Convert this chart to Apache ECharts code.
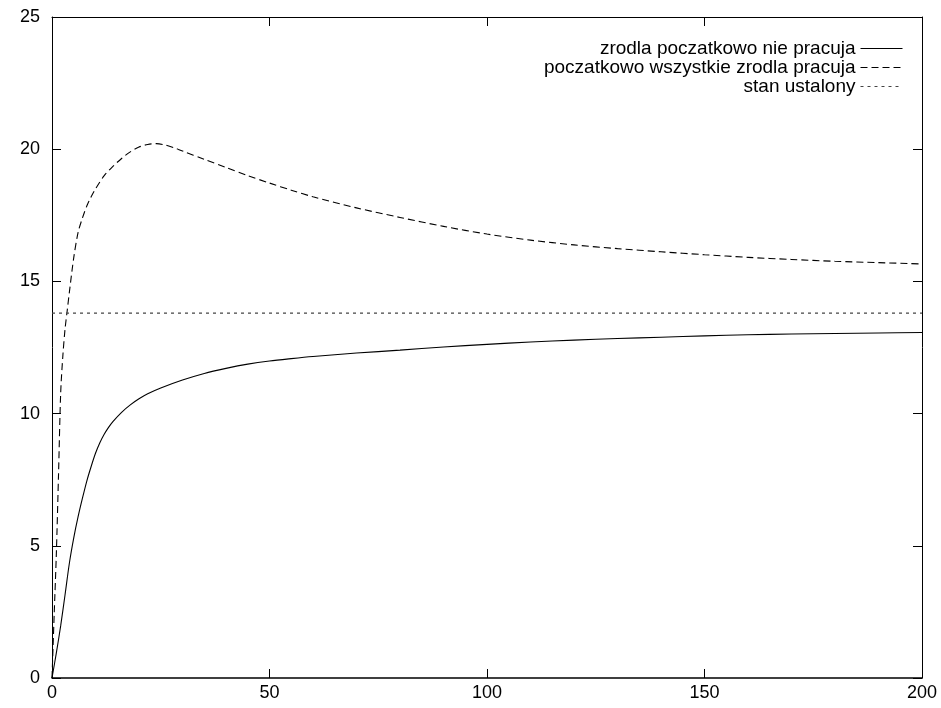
<!DOCTYPE html>
<html>
<head>
<meta charset="utf-8">
<script src="https://cdn.jsdelivr.net/npm/echarts@6/dist/echarts.min.js"></script>
<style>html,body{margin:0;padding:0;background:#fff}#c{width:941px;height:708px}</style>
</head>
<body>
<div id="c"></div>
<script>
// Series names
const names = ['zrodla poczatkowo nie pracuja', 'poczatkowo wszystkie zrodla pracuja', 'stan ustalony'];

// Series 1: sources initially not working (solid)
const solidX = [0, 1, 2, 3, 4, 5, 6, 7, 8, 9, 10, 11, 12, 13, 14, 16, 18, 20, 22, 25, 30, 35, 40, 45, 50, 55, 60, 70, 80, 90, 100, 110, 120, 130, 140, 150, 160, 170, 180, 190, 200];
const solidY = [0, 0.95, 1.98, 3.15, 4.35, 5.3, 6.1, 6.8, 7.45, 8.0, 8.5, 8.9, 9.22, 9.48, 9.7, 10.05, 10.33, 10.56, 10.75, 10.97, 11.27, 11.52, 11.71, 11.87, 11.99, 12.08, 12.16, 12.29, 12.40, 12.52, 12.62, 12.71, 12.78, 12.84, 12.89, 12.94, 12.98, 13.01, 13.03, 13.05, 13.07];

// Series 2: all sources initially working (dashed)
const dashX = [0, 0.5, 1, 1.5, 2, 2.5, 3, 3.5, 4, 5, 6, 7, 8, 9, 10, 12, 14, 16, 18, 20, 22, 24, 26, 28, 30, 35, 40, 45, 50, 55, 60, 70, 80, 90, 100, 110, 120, 130, 140, 150, 160, 170, 180, 190, 200];
const dashY = [0, 2.4, 4.7, 7.7, 10.8, 12.2, 13.2, 13.9, 14.6, 15.9, 16.85, 17.4, 17.85, 18.2, 18.5, 19.0, 19.35, 19.65, 19.9, 20.08, 20.18, 20.21, 20.16, 20.06, 19.93, 19.62, 19.31, 19.0, 18.72, 18.45, 18.2, 17.78, 17.42, 17.08, 16.79, 16.56, 16.38, 16.24, 16.12, 16.01, 15.91, 15.83, 15.76, 15.71, 15.66];

// Series 3: steady state (dotted)
const steadyX = [0, 200];
const steadyY = [13.8, 13.8];

// Axis ticks
const xTicks = [0, 50, 100, 150, 200];
const yTicks = [0, 5, 10, 15, 20, 25];

const zip = (xs, ys) => xs.map((x, i) => [x, ys[i]]);
const FONT = 'Liberation Sans';

const chart = echarts.init(document.getElementById('c'), null, {renderer: 'canvas'});

const axisCommon = {
  type: 'value',
  axisLine: {show: true, onZero: false, lineStyle: {color: '#000', width: 1}},
  axisTick: {show: true, inside: true, length: 9, lineStyle: {color: '#000', width: 1}},
  splitLine: {show: false},
  minorTick: {show: false}
};

const legendCommon = {
  orient: 'vertical',
  right: 38,
  padding: 0,
  align: 'right',
  itemWidth: 42,
  itemHeight: 14,
  selectedMode: false,
  itemStyle: {opacity: 0},
  lineStyle: {width: 1},
  textStyle: {fontSize: 19, fontFamily: FONT, color: '#000'}
};

chart.setOption({
  animation: false,
  backgroundColor: '#fff',
  grid: {left: 52, right: 19, top: 17, bottom: 30, containLabel: false},
  legend: [
    Object.assign({}, legendCommon, {top: 39, data: [names[0]]}),
    Object.assign({}, legendCommon, {top: 58, data: [names[1]]}),
    Object.assign({}, legendCommon, {top: 77, data: [names[2]]})
  ],
  xAxis: [
    Object.assign({}, axisCommon, {
      position: 'bottom', min: xTicks[0], max: xTicks[xTicks.length - 1], interval: 50,
      axisLine: {show: true, onZero: false, lineStyle: {color: '#000', width: 1.5}},
      axisLabel: {show: true, margin: 6, fontSize: 18, fontFamily: FONT, color: '#000'}
    }),
    Object.assign({}, axisCommon, {
      position: 'top', min: xTicks[0], max: xTicks[xTicks.length - 1], interval: 50,
      axisLabel: {show: false}
    })
  ],
  yAxis: [
    Object.assign({}, axisCommon, {
      position: 'left', min: yTicks[0], max: yTicks[yTicks.length - 1], interval: 5,
      axisLabel: {show: true, margin: 12, fontSize: 18, fontFamily: FONT, color: '#000'}
    }),
    Object.assign({}, axisCommon, {
      position: 'right', min: yTicks[0], max: yTicks[yTicks.length - 1], interval: 5,
      axisLabel: {show: false}
    })
  ],
  series: [
    {
      name: names[0], type: 'line', data: zip(solidX, solidY), smooth: 0.3,
      symbol: 'none', showSymbol: false, color: '#000',
      lineStyle: {color: '#000', width: 1.1, type: 'solid'}
    },
    {
      name: names[1], type: 'line', data: zip(dashX, dashY), smooth: 0.3,
      symbol: 'none', showSymbol: false, color: '#000',
      lineStyle: {color: '#000', width: 1.1, type: [7, 4]}
    },
    {
      name: names[2], type: 'line', data: zip(steadyX, steadyY),
      symbol: 'none', showSymbol: false, color: '#444',
      lineStyle: {color: '#444', width: 1.1, type: [3, 4]}
    }
  ]
});
</script>
</body>
</html>
